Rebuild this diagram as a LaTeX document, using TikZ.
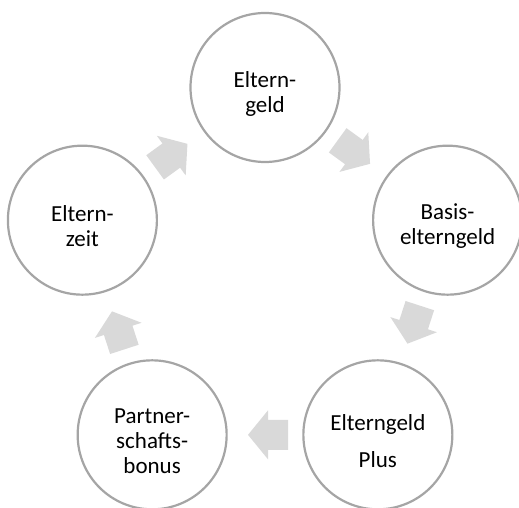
\documentclass[tikz,border=0pt]{standalone}
\usepackage{fontspec}
\setmainfont{Carlito}
\usetikzlibrary{calc}
\definecolor{ringgray}{RGB}{165,165,165}
\definecolor{arrowgray}{RGB}{217,217,217}
\tikzset{
  stage/.style={circle, draw=ringgray, line width=2.2pt, fill=white,
    minimum size=149pt, inner sep=0pt},
  stagetext/.style={align=center, inner sep=0pt, yshift=-6pt,
    font=\fontsize{23pt}{25pt}\selectfont},
  blockarrow/.style={fill=arrowgray, draw=none},
}
\newcommand{\cyclearrowat}[2]{%
  \fill[blockarrow, shift={(#1)}, rotate=#2]
    (20,0) -- (0,24.5) -- (0,15) -- (-20,15) -- (-20,-15) -- (0,-15) -- (0,-24.5) -- cycle;}
\begin{document}
\begin{tikzpicture}[x=1pt,y=1pt]
\useasboundingbox (0,0) rectangle (519,507);
\coordinate (O) at (265,227.5);
\node[stage] (c1) at ($(O)+(90:192)$) {};
\node[stage] (c2) at ($(O)+(18:192)$) {};
\node[stage] (c3) at ($(O)+(-54:192)$) {};
\node[stage] (c4) at ($(O)+(-126:192)$) {};
\node[stage] (c5) at ($(O)+(162:192)$) {};
\node[stagetext] (t1) at (c1) {Eltern-\\geld};
\node[stagetext] (t2) at (c2) {Basis-\\elterngeld};
\node[stagetext] (t3) at (c3) {Elterngeld\\[12pt]Plus};
\node[stagetext] (t4) at (c4) {Partner-\\schafts-\\bonus};
\node[stagetext] (t5) at (c5) {Eltern-\\zeit};
\coordinate (m12) at ($($(c1)!0.5!(c2)$)!3pt!(c1)$);
\coordinate (m23) at ($($(c2)!0.5!(c3)$)!3pt!(c2)$);
\coordinate (m34) at ($($(c3)!0.5!(c4)$)!3pt!(c3)$);
\coordinate (m45) at ($($(c4)!0.5!(c5)$)!3pt!(c4)$);
\coordinate (m51) at ($($(c5)!0.5!(c1)$)!3pt!(c5)$);
\cyclearrowat{m12}{-36}
\cyclearrowat{m23}{-108}
\cyclearrowat{m34}{180}
\cyclearrowat{m45}{108}
\cyclearrowat{m51}{36}
\end{tikzpicture}
\end{document}
